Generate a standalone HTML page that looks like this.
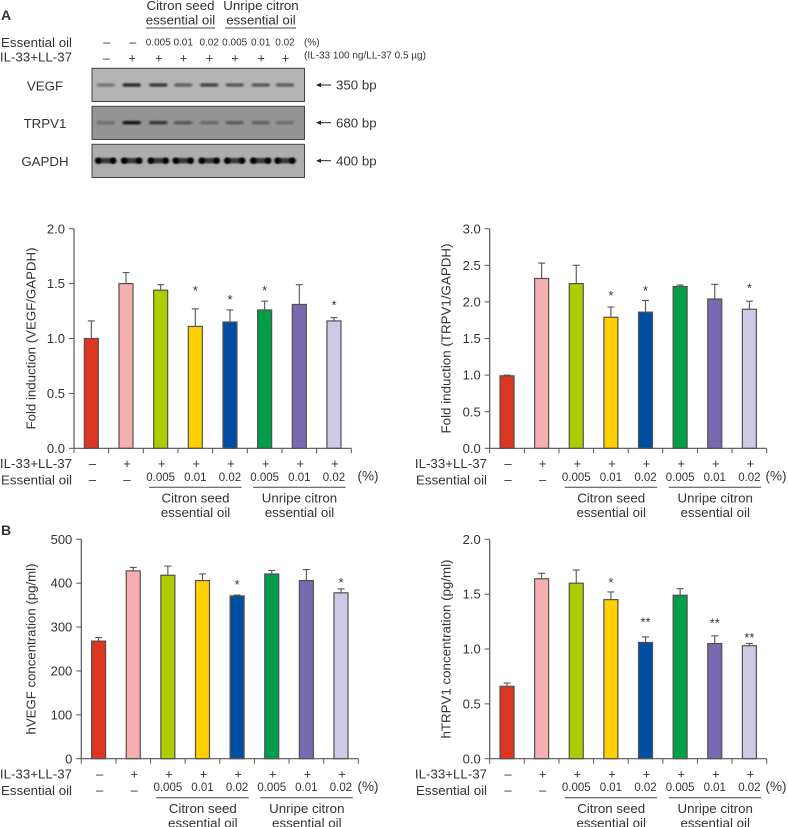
<!DOCTYPE html>
<html lang="en">
<head>
<meta charset="utf-8">
<title>Essential oil VEGF and TRPV1 figure</title>
<style>
html,body{margin:0;padding:0;background:#fff;}
#figure{display:block;width:788px;height:827px;font-family:"Liberation Sans",sans-serif;fill:#333;filter:blur(0.3px);}
</style>
</head>
<body>
<svg id="figure" xmlns="http://www.w3.org/2000/svg" width="788" height="827" viewBox="0 0 788 827">
<defs>
<filter id="band-blur" x="-30%" y="-100%" width="160%" height="300%"><feGaussianBlur stdDeviation="1.1 0.8"/></filter>
</defs>
<g id="layer"></g>
</svg>
<script>
const categories = ['control', 'il33-ll37', 'seed-0.005', 'seed-0.01', 'seed-0.02', 'unripe-0.005', 'unripe-0.01', 'unripe-0.02'];
const stimulusRow = ['–', '+', '+', '+', '+', '+', '+', '+'];
const oilRow = ['–', '–', '0.005', '0.01', '0.02', '0.005', '0.01', '0.02'];
const barColors = ['#dc3520', '#f5afb0', '#aecd00', '#ffd000', '#004ea2', '#009d4a', '#786ab0', '#cdc9e6'];

const vegfFoldValues = [1.0, 1.5, 1.44, 1.11, 1.15, 1.26, 1.31, 1.16];
const vegfFoldTops = [1.16, 1.6, 1.49, 1.27, 1.26, 1.34, 1.49, 1.19];
const vegfFoldStars = [null, null, null, '*', '*', '*', null, '*'];
const vegfFoldStarLevels = [null, null, null, 1.45, 1.37, 1.45, null, 1.32];
const vegfFoldTicks = ['0.0', '0.5', '1.0', '1.5', '2.0'];

const trpvFoldValues = [0.99, 2.32, 2.25, 1.79, 1.86, 2.21, 2.04, 1.9];
const trpvFoldTops = [1.0, 2.53, 2.5, 1.93, 2.02, 2.23, 2.24, 2.01];
const trpvFoldStars = [null, null, null, '*', '*', null, null, '*'];
const trpvFoldStarLevels = [null, null, null, 2.11, 2.18, null, null, 2.21];
const trpvFoldTicks = ['0.0', '0.5', '1.0', '1.5', '2.0', '2.5', '3.0'];

const hvegfValues = [268, 428, 418, 406, 371, 421, 406, 378];
const hvegfTops = [276, 436, 439, 421, 373, 429, 431, 387];
const hvegfStars = [null, null, null, null, '*', null, null, '*'];
const hvegfStarLevels = [null, null, null, null, 400, null, null, 405];
const hvegfTicks = ['0', '100', '200', '300', '400', '500'];

const htrpvValues = [0.66, 1.64, 1.6, 1.45, 1.06, 1.49, 1.05, 1.03];
const htrpvTops = [0.69, 1.69, 1.72, 1.52, 1.11, 1.55, 1.12, 1.05];
const htrpvStars = [null, null, null, '*', '**', null, '**', '**'];
const htrpvStarLevels = [null, null, null, 1.62, 1.26, null, 1.25, 1.12];
const htrpvTicks = ['0.0', '0.5', '1.0', '1.5', '2.0'];

const gelLabels = ['VEGF', 'TRPV1', 'GAPDH'];
const gelSizes = ['350 bp', '680 bp', '400 bp'];
const vegfBandIntensity = [0.35, 0.8, 0.7, 0.48, 0.65, 0.52, 0.52, 0.48];
const trpvBandIntensity = [0.25, 0.9, 0.65, 0.42, 0.3, 0.38, 0.35, 0.26];
const gapdhBandIntensity = [0.72, 0.72, 0.72, 0.72, 0.72, 0.72, 0.72, 0.72];

const NS = 'http://www.w3.org/2000/svg';
const layer = document.getElementById('layer');

function make(tag, attrs, parent) {
  const el = document.createElementNS(NS, tag);
  for (const k in attrs) el.setAttribute(k, attrs[k]);
  (parent || layer).appendChild(el);
  return el;
}
function label(parent, str, x, y, size, anchor, name) {
  const el = make('text', { x: x, y: y + size * 0.35, 'font-size': size, 'text-anchor': anchor || 'middle' }, parent);
  el.textContent = str;
  
  
  return el;
}
function rule(parent, x1, y1, x2, y2, color, width, name) {
  const el = make('line', { x1: x1, y1: y1, x2: x2, y2: y2, stroke: color, 'stroke-width': width }, parent);
  
  
  return el;
}

function drawChart(cfg) {
  const g = make('g', {});
  
  
  const step = cfg.width / categories.length;
  const xCenter = function (i) { return cfg.left + step * (i + 0.5); };
  const maxTick = parseFloat(cfg.ticks[cfg.ticks.length - 1]);
  const yScale = function (v) { return cfg.bottom - (v / maxTick) * cfg.height; };
  const axisColor = '#555';

  categories.forEach(function (cat, i) {
    const top = yScale(cfg.tops[i]);
    const y = yScale(cfg.values[i]);
    rule(g, xCenter(i), y, xCenter(i), top, axisColor, 1.1, 'error-bar-' + cat);
    rule(g, xCenter(i) - 3.5, top, xCenter(i) + 3.5, top, axisColor, 1.1, 'error-cap-' + cat);
    const bar = make('rect', { x: xCenter(i) - 7, y: y, width: 14, height: cfg.bottom - y, fill: barColors[i], stroke: '#56504c', 'stroke-width': 1.2 }, g);
    
    
    if (cfg.stars[i]) {
      label(g, cfg.stars[i], xCenter(i), yScale(cfg.starLevels[i]) + 1.5, 13, 'middle', 'significance-' + cat);
    }
    rule(g, cfg.left + step * i, cfg.bottom, cfg.left + step * i, cfg.bottom + 5, axisColor, 1, 'x-tick-' + i);
    label(g, stimulusRow[i], xCenter(i) + 1, cfg.bottom + 15, 13, 'middle', 'stimulus-mark-' + cat);
    const isDose = i >= 2;
    label(g, oilRow[i], xCenter(i) + (isDose ? 0 : 1), cfg.bottom + (isDose ? 28.5 : 31), isDose ? 11.5 : 13, 'middle', 'oil-dose-' + cat);
  });
  rule(g, cfg.left + cfg.width, cfg.bottom, cfg.left + cfg.width, cfg.bottom + 5, axisColor, 1, 'x-tick-end');
  rule(g, cfg.left, cfg.bottom, cfg.left + cfg.width, cfg.bottom, axisColor, 1.2, 'x-axis');
  rule(g, cfg.left, cfg.bottom, cfg.left, cfg.bottom - cfg.height, axisColor, 1.2, 'y-axis');

  cfg.ticks.forEach(function (t) {
    const y = yScale(parseFloat(t));
    rule(g, cfg.left - 5, y, cfg.left, y, axisColor, 1, 'y-tick-' + t);
    label(g, t, cfg.left - 9, y, 13, 'end', 'y-tick-label-' + t);
  });

  const cy = cfg.bottom - cfg.height / 2;
  const title = make('text', { x: 0, y: 0, 'font-size': 13, 'text-anchor': 'middle', textLength: cfg.titleLen, lengthAdjust: 'spacingAndGlyphs', transform: 'translate(' + (cfg.titleX + 4.5) + ' ' + cy + ') rotate(-90)' }, g);
  title.textContent = cfg.title;
  
  

  label(g, 'IL-33+LL-37', cfg.rowRight, cfg.bottom + 15, 13.3, 'end', 'stimulus-row-label');
  label(g, 'Essential oil', cfg.rowRight, cfg.bottom + 31.5, 13.3, 'end', 'oil-row-label');
  label(g, '(%)', cfg.pctX, cfg.bottom + 27.5, 13.5, 'middle', 'percent-unit');

  rule(g, cfg.left + 75, cfg.bottom + 39, cfg.left + 167.5, cfg.bottom + 39, '#444', 1, 'citron-seed-group-line');
  rule(g, cfg.left + 179, cfg.bottom + 39, cfg.left + 271.5, cfg.bottom + 39, '#444', 1, 'unripe-citron-group-line');
  label(g, 'Citron seed', cfg.left + 121.5, cfg.bottom + 49.5, 13.3, 'middle', 'citron-seed-label');
  label(g, 'essential oil', cfg.left + 121.5, cfg.bottom + 64, 13.3, 'middle', 'citron-seed-label-second-line');
  label(g, 'Unripe citron', cfg.left + 225.5, cfg.bottom + 49.5, 13.3, 'middle', 'unripe-citron-label');
  label(g, 'essential oil', cfg.left + 225.5, cfg.bottom + 64, 13.3, 'middle', 'unripe-citron-label-second-line');
}

function drawGel() {
  const g = make('g', {});
  
  
  const laneX = [105.7, 131.7, 158.3, 183.2, 209.2, 234.7, 260.7, 285];
  const lanes = [
    { y: 68.3, bg: '#b4b4b4', band: 85, h: 2.6, data: vegfBandIntensity, caps: false },
    { y: 106.3, bg: '#949494', band: 122.7, h: 2.8, data: trpvBandIntensity, caps: false },
    { y: 144.3, bg: '#adadad', band: 160.7, h: 4.6, data: gapdhBandIntensity, caps: true }
  ];
  lanes.forEach(function (lane, r) {
    const box = make('rect', { x: 92, y: lane.y, width: 212.5, height: 33.2, fill: lane.bg, stroke: '#444', 'stroke-width': 1 }, g);
    
    
    lane.data.forEach(function (v, i) {
      const b = make('rect', { x: laneX[i] - 9, y: lane.band - lane.h / 2 - 0.4, width: 18, height: lane.h + 0.8, rx: 1.5, fill: '#0c0c0c', opacity: v, filter: 'url(#band-blur)' }, g);
      
      
      if (lane.caps) {
        [-7.5, 7.5].forEach(function (dx, side) {
          const cap = make('circle', { cx: laneX[i] + dx, cy: lane.band, r: 3.2, fill: '#000', filter: 'url(#band-blur)' }, g);
          
          
        });
      }
    });
    label(g, gelLabels[r], 45, lane.band + 0.6, 13.3, 'middle', 'gel-label-' + gelLabels[r].toLowerCase());
    rule(g, 319, lane.band, 331, lane.band, '#222', 1, 'gel-arrow-shaft');
    const head = make('path', { d: 'M316 ' + lane.band + 'l5 -2.2v4.4z', fill: '#222' }, g);
    
    
    label(g, gelSizes[r], 336, lane.band, 13.3, 'start', 'gel-size-' + gelLabels[r].toLowerCase());
  });

  const topDose = ['–', '–', '0.005', '0.01', '0.02', '0.005', '0.01', '0.02'];
  const topStim = ['–', '+', '+', '+', '+', '+', '+', '+'];
  topDose.forEach(function (d, i) {
    const isDose = i >= 2;
    label(g, d, laneX[i] + (isDose ? 0 : 1), 42, isDose ? 10 : 12.5, 'middle', 'top-oil-dose-' + categories[i]);
    label(g, topStim[i], laneX[i] + 0.5, 58, 12.5, 'middle', 'top-stimulus-' + categories[i]);
  });
  label(g, 'Essential oil', 72, 42.5, 13.3, 'end', 'top-oil-row-label');
  label(g, 'IL-33+LL-37', 72, 57, 13.3, 'end', 'top-stimulus-row-label');
  label(g, '(%)', 304, 42, 10, 'start', 'top-percent-unit');
  label(g, '(IL-33 100 ng/LL-37 0.5 µg)', 304, 55, 10, 'start', 'dose-note');
  label(g, 'Citron seed', 180.5, 5.5, 13.3, 'middle', 'top-citron-seed-label');
  label(g, 'essential oil', 180.5, 20, 13.3, 'middle', 'top-citron-seed-label-second-line');
  label(g, 'Unripe citron', 261, 5.5, 13.3, 'middle', 'top-unripe-citron-label');
  label(g, 'essential oil', 261, 20, 13.3, 'middle', 'top-unripe-citron-label-second-line');
  rule(g, 146, 28, 215, 28, '#444', 1, 'top-citron-seed-line');
  rule(g, 225, 28, 296, 28, '#444', 1, 'top-unripe-citron-line');
}

drawGel();

const panelA = label(layer, 'A', 1, 15, 14, 'start', 'panel-label-a');
panelA.setAttribute('font-weight', 'bold');
const panelB = label(layer, 'B', 1, 530, 14, 'start', 'panel-label-b');
panelB.setAttribute('font-weight', 'bold');

drawChart({ name: 'vegf-fold-chart', left: 74, width: 277.3, bottom: 448.3, height: 219.6, values: vegfFoldValues, tops: vegfFoldTops, stars: vegfFoldStars, starLevels: vegfFoldStarLevels, ticks: vegfFoldTicks, title: 'Fold induction (VEGF/GAPDH)', titleX: 31, titleLen: 182, rowRight: 72, pctX: 368 });
drawChart({ name: 'trpv1-fold-chart', left: 489.7, width: 277, bottom: 448.3, height: 219.6, values: trpvFoldValues, tops: trpvFoldTops, stars: trpvFoldStars, starLevels: trpvFoldStarLevels, ticks: trpvFoldTicks, title: 'Fold induction (TRPV1/GAPDH)', titleX: 446, titleLen: 190, rowRight: 487, pctX: 776 });
drawChart({ name: 'hvegf-concentration-chart', left: 81.3, width: 277, bottom: 758.7, height: 219.4, values: hvegfValues, tops: hvegfTops, stars: hvegfStars, starLevels: hvegfStarLevels, ticks: hvegfTicks, title: 'hVEGF concentration (pg/ml)', titleX: 31, titleLen: 171, rowRight: 72, pctX: 368 });
drawChart({ name: 'htrpv1-concentration-chart', left: 489.7, width: 277, bottom: 758.7, height: 219.4, values: htrpvValues, tops: htrpvTops, stars: htrpvStars, starLevels: htrpvStarLevels, ticks: htrpvTicks, title: 'hTRPV1 concentration (pg/ml)', titleX: 446, titleLen: 179, rowRight: 487, pctX: 776 });
</script>
</body>
</html>
